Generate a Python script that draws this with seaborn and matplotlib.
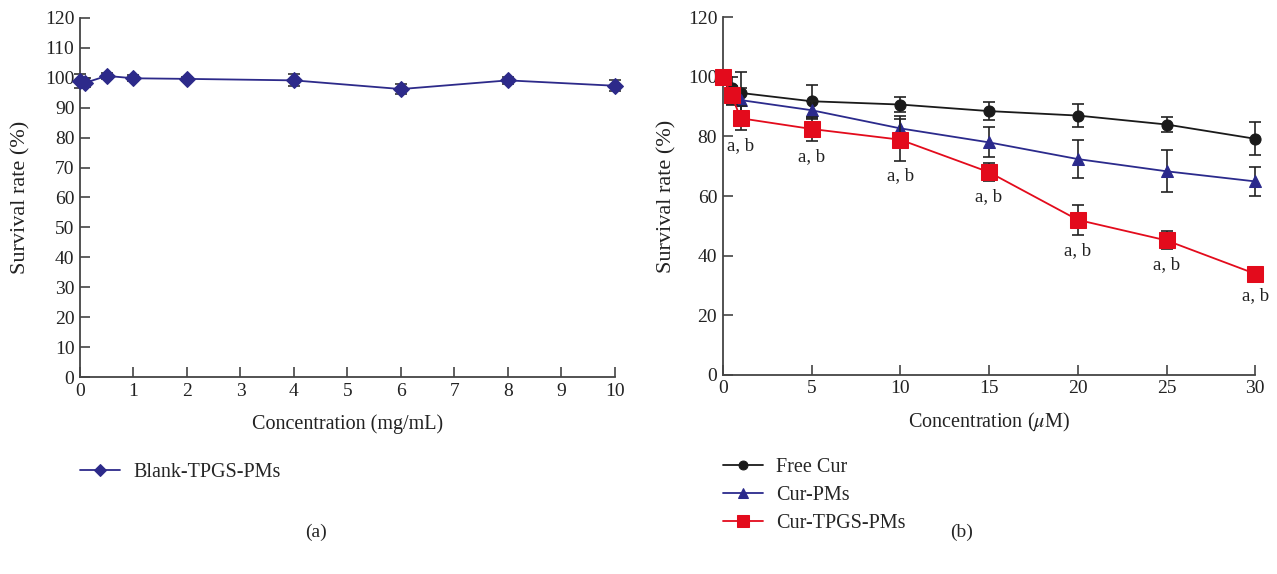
import matplotlib
matplotlib.use("Agg")
import matplotlib.pyplot as plt
import numpy as np
import pandas as pd
import seaborn as sns

# panel (a): blank micelles
blank_conc = [0.0, 0.1, 0.5, 1, 2, 4, 6, 8, 10]
blank_surv = [98.8, 98.3, 100.6, 99.8, 99.6, 99.1, 96.2, 99.1, 97.3]
blank_err = [2.3, 1.5, 1.0, 1.0, 0.6, 2.0, 1.8, 1.2, 1.8]

# panel (b): curcumin formulations
conc_um = [0, 0.5, 1, 5, 10, 15, 20, 25, 30]
free_cur = [100, 96.1, 94.6, 91.8, 90.7, 88.5, 87.0, 84.0, 79.2]
free_cur_err = [0, 4.0, 7.0, 5.5, 2.5, 3.0, 4.0, 2.5, 5.5]
cur_pms = [100, 93.5, 92.2, 88.8, 82.7, 78.0, 72.4, 68.3, 64.9]
cur_pms_err = [0, 3.0, 4.0, 3.0, 4.0, 5.0, 6.5, 7.0, 5.0]
cur_tpgs = [100, 93.9, 86.1, 82.5, 78.9, 68.0, 52.0, 45.1, 33.9]
cur_tpgs_err = [0, 3.0, 4.0, 4.0, 7.0, 3.0, 5.0, 3.0, 2.0]
sig_x = [1, 5, 10, 15, 20, 25, 30]
sig_label = "a, b"

sns.set_theme(style="ticks")
plt.rcParams["font.family"] = ["Liberation Serif", "DejaVu Serif"]
plt.rcParams["font.size"] = 14
plt.rcParams["mathtext.fontset"] = "stix"
axis_color = "#444444"
plt.rcParams["axes.edgecolor"] = axis_color
plt.rcParams["xtick.color"] = axis_color
plt.rcParams["ytick.color"] = axis_color
plt.rcParams["xtick.labelcolor"] = "#222222"
plt.rcParams["ytick.labelcolor"] = "#222222"
plt.rcParams["axes.labelcolor"] = "#222222"

fig = plt.figure(figsize=(12.77, 5.74), dpi=100)
ax1 = fig.add_axes([0.0626, 0.343, 0.419, 0.626])
ax2 = fig.add_axes([0.566, 0.347, 0.417, 0.623])

navy = "#2d2a8a"
blue = "#2b2a8c"
red = "#e30b1c"
black = "#1a1a1a"


def style_axes(ax, xlabel, ylab_x):
    sns.despine(ax=ax)
    ax.tick_params(direction="in", length=7, width=1.2, labelsize=14, pad=4)
    for sp in ("left", "bottom"):
        ax.spines[sp].set_linewidth(1.3)
    ax.set_ylabel("Survival rate (%)", fontsize=16, va="center")
    ax.yaxis.set_label_coords(ylab_x, 0.5)
    ax.set_xlabel(xlabel, fontsize=14.5, va="center")
    ax.xaxis.set_label_coords(0.5, -0.132)


def legend_below(ax, x_px, top_px):
    ax.legend(loc="upper left", bbox_to_anchor=(x_px / 1277, 1 - top_px / 574),
              bbox_transform=fig.transFigure, frameon=False, fontsize=14.5,
              handlelength=2.0, handletextpad=0.65, labelspacing=0.45,
              borderpad=0, borderaxespad=0, markerscale=0.8)


# ---- (a)
df_a = pd.DataFrame({"conc": blank_conc, "surv": blank_surv})
ax1.errorbar(blank_conc, blank_surv, yerr=blank_err, fmt="none", ecolor="#333333",
             elinewidth=1.2, capsize=4, capthick=1.2, zorder=2, clip_on=False)
sns.lineplot(data=df_a, x="conc", y="surv", ax=ax1, color=navy, marker="D",
             markersize=8, markeredgecolor=navy, linewidth=1.3,
             label="Blank-TPGS-PMs", zorder=3, clip_on=False)
ax1.set_xlim(0, 10)
ax1.set_ylim(0, 120)
ax1.set_xticks(range(0, 11))
ax1.set_yticks(range(0, 121, 10))
style_axes(ax1, "Concentration (mg/mL)", (21 - 80) / 535)
legend_below(ax1, 80, 463)

# ---- (b)
series = [
    ("Free Cur", free_cur, free_cur_err, black, "o", 8),
    ("Cur-PMs", cur_pms, cur_pms_err, blue, "^", 9),
    ("Cur-TPGS-PMs", cur_tpgs, cur_tpgs_err, red, "s", 11),
]
for i, (name, vals, errs, col, mk, ms) in enumerate(series):
    ax2.errorbar(conc_um, vals, yerr=errs, fmt="none", ecolor="#222222",
                 elinewidth=1.2, capsize=4, capthick=1.2, zorder=2 + i, clip_on=False)
    df_b = pd.DataFrame({"conc": conc_um, "surv": vals})
    sns.lineplot(data=df_b, x="conc", y="surv", ax=ax2, color=col, marker=mk,
                 markersize=ms, markeredgecolor=col, linewidth=1.3, label=name,
                 zorder=3 + i, clip_on=False)

for xv in sig_x:
    k = conc_um.index(xv)
    ax2.annotate(sig_label, (xv, cur_tpgs[k] - cur_tpgs_err[k]), xytext=(0, -5),
                 textcoords="offset points", ha="center", va="top", fontsize=13.5,
                 color="#222222", annotation_clip=False)

ax2.set_xlim(0, 30)
ax2.set_ylim(0, 120)
ax2.set_xticks(range(0, 31, 5))
ax2.set_yticks(range(0, 121, 20))
style_axes(ax2, "Concentration ($\\mu$M)", (667 - 723) / 532)
legend_below(ax2, 723, 458)

fig.text(316 / 1277, 1 - 532 / 574, "(a)", ha="center", va="center", fontsize=14)
fig.text(962 / 1277, 1 - 532 / 574, "(b)", ha="center", va="center", fontsize=14)

fig.savefig("out.png", dpi=100)
